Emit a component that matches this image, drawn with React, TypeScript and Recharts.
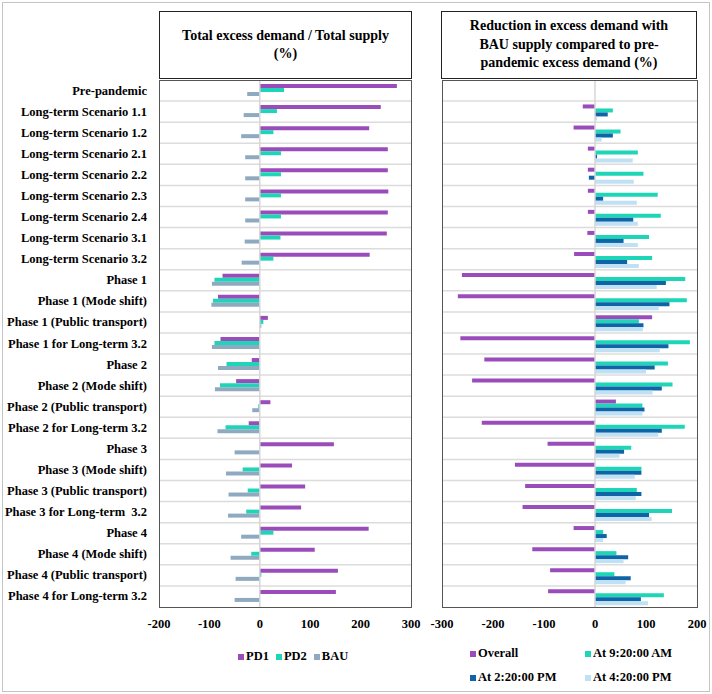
import React from 'react';
import { BarChart, Bar, XAxis, YAxis, CartesianGrid, ReferenceLine } from 'recharts';

const categories = [
  'Pre-pandemic',
  'Long-term Scenario 1.1',
  'Long-term Scenario 1.2',
  'Long-term Scenario 2.1',
  'Long-term Scenario 2.2',
  'Long-term Scenario 2.3',
  'Long-term Scenario 2.4',
  'Long-term Scenario 3.1',
  'Long-term Scenario 3.2',
  'Phase 1',
  'Phase 1 (Mode shift)',
  'Phase 1 (Public transport)',
  'Phase 1 for Long-term 3.2',
  'Phase 2',
  'Phase 2 (Mode shift)',
  'Phase 2 (Public transport)',
  'Phase 2 for Long-term 3.2',
  'Phase 3',
  'Phase 3 (Mode shift)',
  'Phase 3 (Public transport)',
  'Phase 3 for Long-term  3.2',
  'Phase 4',
  'Phase 4 (Mode shift)',
  'Phase 4 (Public transport)',
  'Phase 4 for Long-term 3.2',
];

// Left panel: Total excess demand / Total supply (%)
const pd1 = [272, 240, 217, 254, 254, 255, 254, 252, 218, -74, -83, 16, -78, -16, -47, 21, -22, 147, 64, 90, 82, 216, 109, 155, 151];
const pd2 = [48, 34, 27, 42, 42, 42, 42, 41, 27, -90, -93, 7, -90, -66, -79, -3, -68, 0, -34, -24, -27, 27, -17, 3, 0];
const bau = [-25, -32, -37, -29, -29, -29, -29, -30, -36, -95, -96, 3, -95, -83, -89, -15, -84, -50, -67, -62, -63, -37, -58, -48, -50];

// Right panel: Reduction in excess demand with BAU supply compared to pre-pandemic (%)
const overall = [null, -24, -42, -14, -14, -14, -14, -15, -41, -261, -269, 112, -264, -217, -241, 41, -222, -93, -157, -137, -142, -42, -123, -88, -92];
const at920 = [null, 35, 50, 84, 95, 123, 129, 106, 112, 177, 180, 86, 186, 143, 152, 93, 176, 71, 91, 82, 151, 16, 42, 38, 135];
const at220 = [null, 25, 35, 4, -12, 16, 75, 56, 63, 139, 146, 95, 144, 117, 131, 97, 131, 57, 91, 91, 106, 23, 65, 70, 90];
const at420 = [null, 4, 13, 74, 76, 82, 84, 84, 86, 121, 125, 94, 127, 100, 113, 93, 124, 48, 78, 80, 111, 16, 56, 60, 104];

const leftTicks = [-200, -100, 0, 100, 200, 300];
const rightTicks = [-300, -200, -100, 0, 100, 200];

const leftTitle = ['Total excess demand / Total supply', '(%)'];
const rightTitle = ['Reduction in excess demand with', 'BAU supply compared to pre-', 'pandemic excess demand (%)'];

const leftSeries = [
  { key: 'pd1', name: 'PD1', color: '#9A4DBA' },
  { key: 'pd2', name: 'PD2', color: '#1FD5B8' },
  { key: 'bau', name: 'BAU', color: '#8FAAC0' },
];
const rightSeries = [
  { key: 'overall', name: 'Overall', color: '#9A4DBA' },
  { key: 'at920', name: 'At 9:20:00 AM', color: '#1FD5B8' },
  { key: 'at220', name: 'At 2:20:00 PM', color: '#0E64A6' },
  { key: 'at420', name: 'At 4:20:00 PM', color: '#C0E0F4' },
];

const leftData = categories.map((c, i) => ({ cat: c, pd1: pd1[i], pd2: pd2[i], bau: bau[i] }));
const rightData = categories.map((c, i) => ({
  cat: c,
  overall: overall[i],
  at920: at920[i],
  at220: at220[i],
  at420: at420[i],
}));

const FONT = '"Liberation Serif", "Times New Roman", serif';

const rowLines = (props: any) => {
  const offset = props.offset;
  const n = categories.length;
  const out: number[] = [];
  for (let i = 1; i < n; i++) out.push(offset.top + (offset.height * i) / n);
  return out;
};

const CatTick = (props: any) => {
  const { x, y, payload } = props;
  return (
    <text
      x={x}
      y={y}
      textAnchor="end"
      dominantBaseline="central"
      fill="#000"
      fontSize={12.5}
      fontWeight={700}
      fontFamily={FONT}
      style={{ whiteSpace: 'pre' }}
    >
      {payload.value}
    </text>
  );
};

const tickStyle = { fill: '#000', fontSize: 12.5, fontWeight: 700, fontFamily: FONT };

const abs = (l: number, t: number, w: number, h: number): React.CSSProperties => ({
  position: 'absolute',
  left: l,
  top: t,
  width: w,
  height: h,
  boxSizing: 'border-box',
});

const LegendItem = ({ color, name }: { color: string; name: string }) => (
  <span style={{ display: 'inline-flex', alignItems: 'center', whiteSpace: 'nowrap' }}>
    <span style={{ display: 'inline-block', width: 6, height: 6, background: color, marginRight: 2 }} />
    <span>{name}</span>
  </span>
);

const TitleBox = ({ l, lines }: { l: number; lines: string[] }) => (
  <div
    style={{
      ...abs(l, 11, l === 159 ? 253 : 256, 68),
      border: '1.5px solid #222',
      display: 'flex',
      flexDirection: 'column',
      alignItems: 'center',
      justifyContent: 'center',
      fontFamily: FONT,
      fontWeight: 700,
      fontSize: 14,
      lineHeight: '18.5px',
      color: '#000',
      textAlign: 'center',
    }}
  >
    {lines.map((t) => (
      <div key={t}>{t}</div>
    ))}
  </div>
);

export default function App() {
  return (
    <div style={{ position: 'absolute', left: 0, top: 0, width: 712, height: 694, background: '#fff', overflow: 'hidden' }}>
      <div style={{ ...abs(2, 2, 708, 690), border: '1px solid #c4c4c4' }} />

      <div style={abs(0, 0, 430, 694)}>
        <BarChart
          width={430}
          height={694}
          data={leftData}
          layout="vertical"
          margin={{ top: 80, right: 19, bottom: 57, left: 0 }}
          barCategoryGap="19%"
          barGap={0}
        >
          <CartesianGrid vertical={false} stroke="#dcdcdc" strokeWidth={1.5} horizontalCoordinatesGenerator={rowLines} />
          <XAxis
            type="number"
            domain={[-200, 300]}
            ticks={leftTicks}
            allowDataOverflow
            axisLine={false}
            tickLine={false}
            tickSize={6}
            tickMargin={6}
            height={30}
            tick={tickStyle}
            interval={0}
          />
          <YAxis
            type="category"
            dataKey="cat"
            width={159}
            axisLine={false}
            tickLine={false}
            tickSize={6}
            tickMargin={6}
            tick={<CatTick />}
            interval={0}
          />
          <ReferenceLine x={0} stroke="#d6d6d6" strokeWidth={1.5} />
          {leftSeries.map((s) => (
            <Bar key={s.key} dataKey={s.key} name={s.name} fill={s.color} isAnimationActive={false} />
          ))}
        </BarChart>
      </div>

      <div style={abs(430, 0, 282, 694)}>
        <BarChart
          width={282}
          height={694}
          data={rightData}
          layout="vertical"
          margin={{ top: 80, right: 15, bottom: 57, left: 12 }}
          barCategoryGap="16%"
          barGap={0}
        >
          <CartesianGrid vertical={false} stroke="#dcdcdc" strokeWidth={1.5} horizontalCoordinatesGenerator={rowLines} />
          <XAxis
            type="number"
            domain={[-300, 200]}
            ticks={rightTicks}
            allowDataOverflow
            axisLine={false}
            tickLine={false}
            tickSize={6}
            tickMargin={6}
            height={30}
            tick={tickStyle}
            interval={0}
          />
          <YAxis type="category" dataKey="cat" hide />
          <ReferenceLine x={0} stroke="#d6d6d6" strokeWidth={1.5} />
          {rightSeries.map((s) => (
            <Bar key={s.key} dataKey={s.key} name={s.name} fill={s.color} isAnimationActive={false} />
          ))}
        </BarChart>
      </div>

      {/* plot borders */}
      <div style={{ ...abs(159, 80, 253, 528), border: '1.5px solid #555', pointerEvents: 'none' }} />
      <div style={{ ...abs(442, 80, 256, 528), border: '1.5px solid #555', pointerEvents: 'none' }} />

      <TitleBox l={159} lines={leftTitle} />
      <TitleBox l={441} lines={rightTitle} />

      {/* legends */}
      <div
        style={{
          position: 'absolute',
          left: 238,
          top: 649,
          display: 'flex',
          gap: 7,
          fontFamily: FONT,
          fontWeight: 700,
          fontSize: 12.5,
          color: '#000',
        }}
      >
        {leftSeries.map((s) => (
          <LegendItem key={s.key} color={s.color} name={s.name} />
        ))}
      </div>
      <div
        style={{
          position: 'absolute',
          left: 470,
          top: 646,
          display: 'grid',
          gridTemplateColumns: '115px 115px',
          rowGap: 9,
          fontFamily: FONT,
          fontWeight: 700,
          fontSize: 12.5,
          color: '#000',
        }}
      >
        {rightSeries.map((s) => (
          <LegendItem key={s.key} color={s.color} name={s.name} />
        ))}
      </div>
    </div>
  );
}
